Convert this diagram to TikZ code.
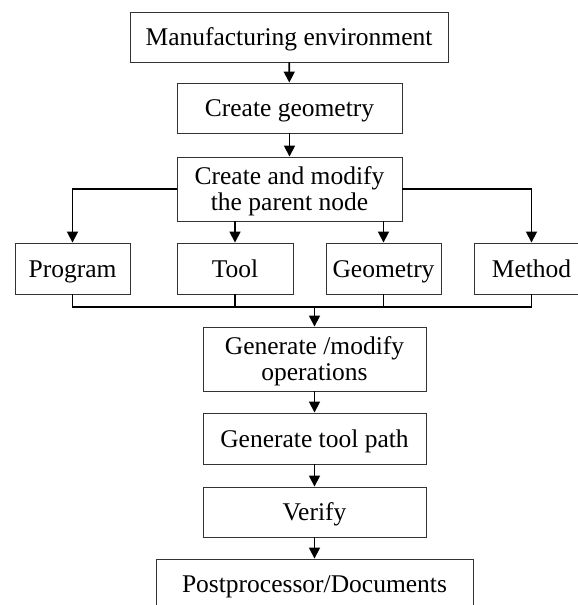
\documentclass[tikz,border=0pt]{standalone}
\usepackage{fontspec}
\setmainfont{Liberation Serif}
\usetikzlibrary{arrows.meta}
\begin{document}
\begin{tikzpicture}[x=1pt,y=-1pt,
  box/.style={draw=black!80, line width=0.9pt, inner sep=0pt, align=center,
    font=\fontsize{25.5}{26.5}\selectfont, text height=17pt, text depth=0pt,
    minimum height=50pt},
  twoline/.style={box, text height=43.5pt, minimum height=64pt},
  conn/.style={line width=1.7pt, black},
  arr/.style={conn, -{Triangle[length=11pt,width=11pt]}}]
\clip (0,0) rectangle (578,605);
\node[box, minimum width=318pt] (env) at (289,37) {Manufacturing environment};
\node[box, minimum width=225pt] (geom) at (289.5,108) {Create geometry};
\node[twoline, minimum width=225pt] (parent) at (289.5,189) {Create and modify\\the parent node};
\node[box, minimum width=115pt, minimum height=51pt] (prog) at (72.5,268.5) {Program};
\node[box, minimum width=116pt, minimum height=51pt] (tool) at (235,268.5) {Tool};
\node[box, minimum width=115pt, minimum height=51pt] (geo) at (383.5,268.5) {Geometry};
\node[box, minimum width=115pt, minimum height=51pt] (meth) at (531.5,268.5) {Method};
\node[twoline, minimum width=223pt] (ops) at (314.5,359) {Generate /modify\\operations};
\node[box, minimum width=223pt, minimum height=51pt] (path) at (314.5,438.5) {Generate tool path};
\node[box, minimum width=223pt] (ver) at (314.5,512) {Verify};
\node[box, minimum width=317pt] (post) at (314.5,584) {Postprocessor/Documents};
\coordinate (J) at (314.5,307);
\draw[arr] (env) -- (geom);
\draw[arr] (geom) -- (parent);
\draw[arr] (parent.west) -| (prog.north);
\draw[arr] (parent.east) -| (meth.north);
\draw[arr] (tool.north |- parent.south) -- (tool.north);
\draw[arr] (geo.north |- parent.south) -- (geo.north);
\draw[conn] (prog.south) |- (J) -| (meth.south);
\draw[conn] (tool.south) -- (tool.south |- J);
\draw[conn] (geo.south) -- (geo.south |- J);
\draw[arr] (J) -- (ops.north);
\draw[arr] (ops) -- (path);
\draw[arr] (path) -- (ver);
\draw[arr] (ver) -- (post);
\end{tikzpicture}
\end{document}
